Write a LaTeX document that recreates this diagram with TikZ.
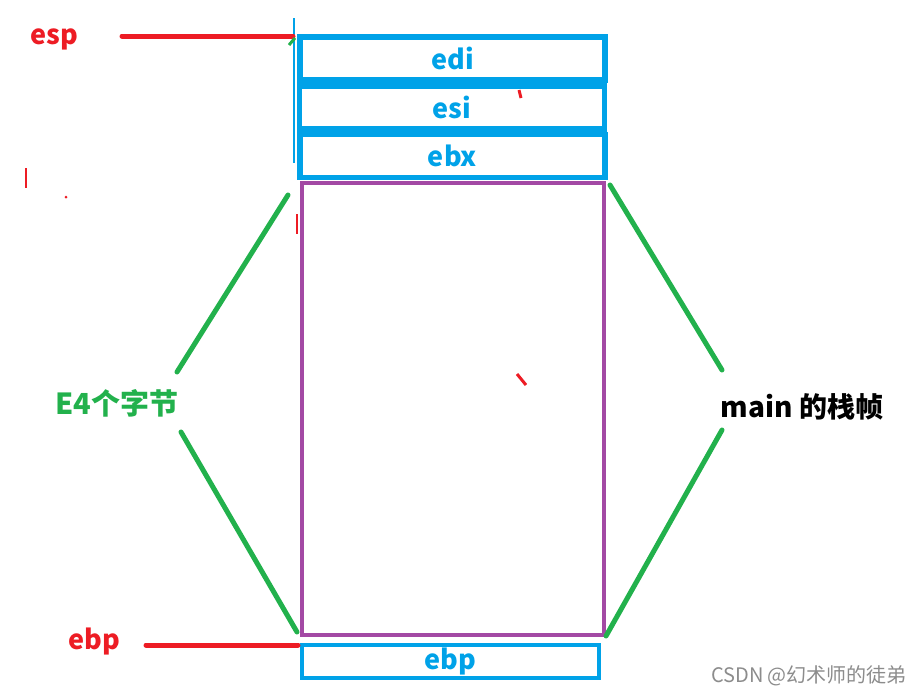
\documentclass[tikz,border=0pt]{standalone}
\usepackage{fontspec}
\setmainfont{Noto Sans CJK SC}
\definecolor{regblue}{RGB}{0, 162, 232}
\definecolor{ptrred}{RGB}{237, 28, 36}
\definecolor{framepurple}{RGB}{163, 73, 164}
\definecolor{bracegreen}{RGB}{34, 177, 76}
\newcommand{\labelfont}{\bfseries\fontsize{27}{27}\selectfont}

\begin{document}
\begin{tikzpicture}[x=1pt, y=-1pt,
  reg/.style={draw=regblue, line width=5.5pt, text=regblue, font=\labelfont,
    minimum width=305pt, minimum height=43pt, inner sep=0pt, outer sep=0pt},
  frame/.style={draw=framepurple, line width=4.5pt, minimum width=302pt,
    minimum height=452pt, inner sep=0pt, outer sep=0pt},
  ptr/.style={draw=ptrred, line width=5pt, line cap=round},
  brace/.style={draw=bracegreen, line width=5pt, line cap=round}]
  \useasboundingbox (0, 0) rectangle (919, 694);

  % pointers
  \node[text=ptrred, font=\labelfont] (esp) at (54, 39) {esp};
  \node[text=ptrred, font=\labelfont] (ebp) at (94, 641) {ebp};

  % saved registers and the frame
  \node[frame] (main) at (453, 409) {};
  \node[reg, line width=4pt, minimum width=297pt, minimum height=33pt] (ebpslot) at (450.5, 661.5) {ebp};
  \node[reg] (edi) at (452.5, 58.5) {\raisebox{-3pt}{edi}};
  \node[reg] (esi) at (452, 107.5) {\raisebox{-1pt}{esi}};
  \node[reg] (ebx) at (452.5, 156) {\raisebox{-1pt}{ebx}};
  \draw[regblue, line width=2pt] ([shift={(-6, -19)}]edi.north west) -- ([shift={(-6, 7)}]ebx.west);

  \coordinate (esptail) at (122, 36);
  \coordinate (ebptail) at (146, 645);
  \draw[ptr] (esptail) -- ([shift={(-7, -1)}]edi.north west);
  \draw[ptr] (ebptail) -- ([xshift=-4]ebpslot.north west);

  % braces
  \node[text=bracegreen, font=\bfseries\fontsize{29}{29}\selectfont] (bytes) at (117, 403) {E4个字节};
  \node[font=\bfseries\fontsize{28}{28}\selectfont] (frameinfo) at (802, 407) {main 的栈帧};
  \coordinate (lt) at (177, 372);
  \coordinate (lb) at (181, 432);
  \coordinate (rt) at (722, 370);
  \coordinate (rb) at (722, 430);
  \draw[brace] ([shift={(-14, 12)}]main.north west) -- (lt);
  \draw[brace] ([shift={(-5, -3)}]main.south west) -- (lb);
  \draw[brace] ([shift={(6, 2)}]main.north east) -- (rt);
  \draw[brace] ([shift={(2, 1)}]main.south east) -- (rb);

  % stray marks
  \draw[bracegreen, line width=3pt] (289, 45) -- (295, 38);
  \foreach \a/\b/\w in {26/168/1.5, 297/214/1.5} {
    \draw[ptrred, line width=\w pt] (\a, \b) -- ++(0, 20);
  }
  \draw[ptrred, line width=3pt] (519, 90) -- (521, 98);
  \draw[ptrred, line width=3pt] (517, 374) -- (526, 385);
  \fill[ptrred] (66, 197) circle (1.5);

  \node[text=black!45, font=\fontsize{20}{20}\selectfont] (mark) at (809, 676) {CSDN @幻术师的徒弟};
\end{tikzpicture}
\end{document}
